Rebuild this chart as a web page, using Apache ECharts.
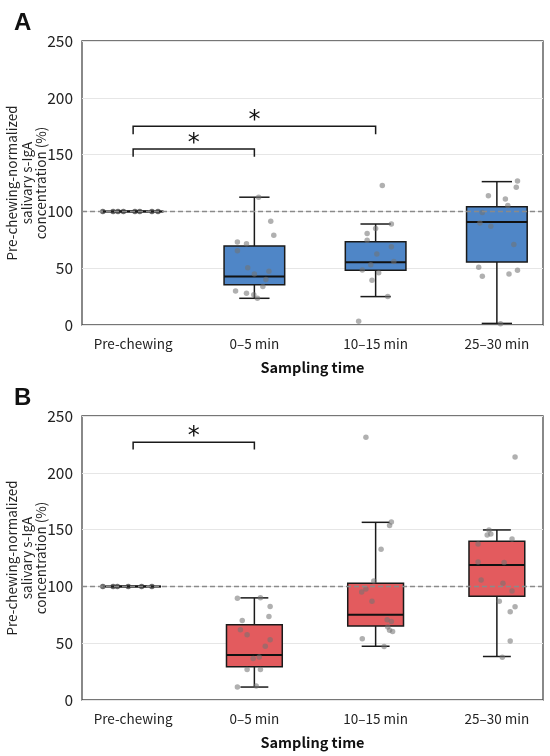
<!DOCTYPE html>
<html>
<head>
<meta charset="utf-8">
<script src="https://cdn.jsdelivr.net/npm/echarts@6/dist/echarts.min.js"></script>
<style>html,body{margin:0;padding:0;background:#fff}#c{width:550px;height:756px}</style>
</head>
<body>
<div id="c"></div>
<script>
// ---- data ----
const categories = ['Pre-chewing', '0–5 min', '10–15 min', '25–30 min'];
const yTicks = [0, 50, 100, 150, 200, 250];
const yAxisName = 'Pre-chewing-normalized\nsalivary s-IgA\nconcentration (%)';
const xAxisName = 'Sampling time';
const referenceLevel = 100;

// box stats: [min, Q1, median, Q3, max]
const boxA = [
  [100, 100, 100, 100, 100],
  [23.5, 35.4, 42.7, 69.5, 112.5],
  [25, 48.3, 55.2, 73.2, 88.9],
  [1.4, 55.5, 90.7, 104, 126.2]
];
const boxB = [
  [100, 100, 100, 100, 100],
  [11.4, 29.2, 39.7, 66.3, 89.9],
  [47.3, 65.1, 75, 102.7, 156.4],
  [38.3, 91.3, 118.8, 139.8, 149.7]
];

// individual points (values) and horizontal jitter (category units)
const ptsA_pre = [100, 100, 100, 100, 100, 100, 100, 100];
const jitA_pre = [-0.25, -0.165, -0.125, -0.08, 0.015, 0.055, 0.155, 0.205];
const ptsA_05 = [112.5, 91.3, 79, 73, 71.5, 65.4, 50.5, 47.4, 44.8, 40, 34, 29.9, 27.9, 26.7, 23.5];
const jitA_05 = [0.035, 0.135, 0.16, -0.14, -0.065, -0.14, -0.055, 0.12, 0, 0.095, 0.07, -0.155, -0.065, -0.005, 0.025];
const ptsA_1015 = [122.7, 89, 84.9, 80.5, 74.7, 68.8, 62.5, 56, 53, 48.5, 45.9, 39.5, 25, 3.4];
const jitA_1015 = [0.055, 0.13, 0, -0.07, -0.07, 0.13, 0.01, 0.15, -0.04, -0.11, 0.025, -0.03, 0.1, -0.14];
const ptsA_2530 = [126.8, 121.2, 113.7, 111, 105.2, 99.1, 89.8, 86.9, 70.9, 50.9, 43, 45, 48.3, 1.1];
const jitA_2530 = [0.17, 0.16, -0.07, 0.07, 0.09, -0.12, -0.14, -0.05, 0.14, -0.15, -0.12, 0.1, 0.17, 0.03];

const ptsB_pre = [100, 100, 100, 100, 100, 100];
const jitB_pre = [-0.25, -0.165, -0.13, -0.04, 0.07, 0.155];
const ptsB_05 = [89.6, 89.9, 82.3, 73.6, 70, 61.9, 57.5, 53.1, 47.3, 36.5, 37.9, 26.9, 26.9, 11.4, 12.3];
const jitB_05 = [-0.14, 0.05, 0.13, 0.12, -0.1, -0.115, -0.06, 0.13, 0.09, -0.01, 0.04, -0.06, 0.05, -0.14, 0.015];
const ptsB_1015 = [231.4, 156.6, 153.7, 132.7, 104.7, 97.7, 95, 86.9, 70.6, 69.2, 64.2, 61.3, 60.2, 54, 47];
const jitB_1015 = [-0.08, 0.13, 0.115, 0.045, -0.015, -0.08, -0.115, -0.03, 0.095, 0.13, 0.1, 0.115, 0.14, -0.11, 0.07];
const ptsB_2530 = [213.9, 149.7, 146.2, 145.3, 141.8, 137.4, 121.4, 121, 105.6, 102.7, 96, 86.9, 82, 77.6, 51.9, 37.7];
const jitB_2530 = [0.15, -0.065, -0.05, -0.08, 0.125, -0.155, -0.155, 0.06, -0.13, 0.05, 0.125, 0.02, 0.15, 0.11, 0.11, 0.045];

// significance brackets: [fromCategory, toCategory, barLevel, tickEndLevel]
const bracketsA = [[0, 1, 155, 148], [0, 2, 175, 168]];
const bracketsB = [[0, 1, 227, 220.5]];

// ---- build ----
const FONT = "'Noto Sans CJK JP', 'Noto Sans', sans-serif";
const panels = [
  { title: 'A', box: boxA, color: '#4f86c7', pts: [ptsA_pre, ptsA_05, ptsA_1015, ptsA_2530], jit: [jitA_pre, jitA_05, jitA_1015, jitA_2530], brackets: bracketsA, top: 41, titleTop: 6, boxRatio: 0.5 },
  { title: 'B', box: boxB, color: '#e35b5e', pts: [ptsB_pre, ptsB_05, ptsB_1015, ptsB_2530], jit: [jitB_pre, jitB_05, jitB_1015, jitB_2530], brackets: bracketsB, top: 416, titleTop: 381, boxRatio: 0.46 }
];
const PLOT_H = 284;

const option = {
  animation: false,
  backgroundColor: '#fff',
  title: [], grid: [], xAxis: [], yAxis: [], series: []
};

function boxRenderer(color, ratio) {
  return function (params, api) {
    const x = api.value(0);
    const lo = api.coord([x, api.value(1)]);
    const q1 = api.coord([x, api.value(2)]);
    const md = api.coord([x, api.value(3)]);
    const q3 = api.coord([x, api.value(4)]);
    const hi = api.coord([x, api.value(5)]);
    const w = api.size([1, 0])[0] * ratio;
    const c = w / 4;
    const cx = md[0];
    const ls = { stroke: '#1a1a1a', lineWidth: 1.5 };
    return {
      type: 'group',
      children: [
        { type: 'line', shape: { x1: cx, y1: hi[1], x2: cx, y2: q3[1] }, style: ls },
        { type: 'line', shape: { x1: cx, y1: q1[1], x2: cx, y2: lo[1] }, style: ls },
        { type: 'line', shape: { x1: cx - c, y1: hi[1], x2: cx + c, y2: hi[1] }, style: ls },
        { type: 'line', shape: { x1: cx - c, y1: lo[1], x2: cx + c, y2: lo[1] }, style: ls },
        { type: 'rect', shape: { x: cx - w / 2, y: q3[1], width: w, height: q1[1] - q3[1] }, style: { fill: color, stroke: '#1a1a1a', lineWidth: 1.5 } },
        { type: 'line', shape: { x1: cx - w / 2, y1: md[1], x2: cx + w / 2, y2: md[1] }, style: { stroke: '#111', lineWidth: 2 } }
      ]
    };
  };
}

function bracketRenderer(params, api) {
  const a = api.value(0), b = api.value(1), lv = api.value(2), tk = api.value(3);
  const p1 = api.coord([a, tk]), p2 = api.coord([a, lv]), p3 = api.coord([b, lv]), p4 = api.coord([b, tk]);
  return {
    type: 'group',
    children: [
      { type: 'polyline', shape: { points: [p1, p2, p3, p4] }, style: { stroke: '#1a1a1a', lineWidth: 1.5, fill: null } },
      { type: 'text', style: { text: '*', x: (p2[0] + p3[0]) / 2, y: p2[1] - 5, textAlign: 'center', textVerticalAlign: 'middle', font: "24px 'DejaVu Sans', sans-serif", fill: '#111' } }
    ]
  };
}

panels.forEach((p, k) => {
  const g0 = k * 2, g1 = k * 2 + 1;
  option.title.push({ text: p.title, left: 9, top: p.titleTop, textStyle: { fontSize: 24, fontWeight: 'bold', color: '#111', fontFamily: "'Liberation Sans', Arial, sans-serif" } });
  option.grid.push({ left: 82, right: 7, top: p.top, height: PLOT_H, show: true, borderColor: '#4a4a4a', borderWidth: 1.3, backgroundColor: 'transparent', outerBoundsMode: 'none', containLabel: false });
  option.grid.push({ left: 72.5, width: 485, top: p.top, height: PLOT_H, show: false, outerBoundsMode: 'none', containLabel: false });
  // frame x axis (name)
  option.xAxis.push({ gridIndex: g0, type: 'value', min: 0, max: 1, axisLabel: { show: false }, axisLine: { show: false }, axisTick: { show: false }, splitLine: { show: false },
    name: xAxisName, nameLocation: 'middle', nameGap: 35, nameMoveOverlap: false, nameTextStyle: { fontSize: 14.5, fontWeight: 'bold', color: '#111', fontFamily: FONT } });
  // category labels
  option.xAxis.push({ gridIndex: g1, type: 'category', data: categories, boundaryGap: true, axisLine: { show: false }, axisTick: { show: false },
    axisLabel: { fontSize: 13.5, color: '#222', margin: 12, fontFamily: FONT } });
  // numeric x for marks
  option.xAxis.push({ gridIndex: g1, type: 'value', min: -0.5, max: 3.5, show: false });
  option.yAxis.push({ gridIndex: g0, type: 'value', min: yTicks[0], max: yTicks[yTicks.length - 1], interval: yTicks[1] - yTicks[0],
    axisLine: { show: false }, axisTick: { show: false },
    axisLabel: { fontSize: 15.5, color: '#222', margin: 9, fontFamily: FONT },
    splitLine: { show: true, lineStyle: { color: '#e6e6e6', width: 1 } },
    name: yAxisName, nameLocation: 'middle', nameGap: 33.5, nameRotate: 90, nameMoveOverlap: false,
    nameTextStyle: { fontSize: 13.5, color: '#222', lineHeight: 14.5, fontFamily: FONT } });
  option.yAxis.push({ gridIndex: g1, type: 'value', min: yTicks[0], max: yTicks[yTicks.length - 1], show: false });

  const xv = k * 3 + 2, yv = k * 2 + 1;
  // reference line
  option.series.push({ type: 'line', xAxisIndex: k * 3, yAxisIndex: k * 2, data: [], silent: true,
    markLine: { symbol: 'none', silent: true, label: { show: false }, lineStyle: { color: '#8a8a8a', type: [5, 3], width: 1.3 }, data: [{ yAxis: referenceLevel }] } });
  // boxes
  option.series.push({ type: 'custom', xAxisIndex: xv, yAxisIndex: yv, renderItem: boxRenderer(p.color, p.boxRatio),
    encode: { x: 0, y: [1, 2, 3, 4, 5] },
    data: p.box.map((b, i) => [i].concat(b)), z: 3 });
  // points
  const sd = [];
  p.pts.forEach((arr, i) => arr.forEach((v, j) => sd.push({ value: [i + p.jit[i][j], v], itemStyle: i === 0 ? { color: 'rgba(40,40,40,0.85)' } : undefined })));
  option.series.push({ type: 'scatter', xAxisIndex: xv, yAxisIndex: yv, data: sd, symbolSize: 5.5, z: 4,
    itemStyle: { color: 'rgba(115,115,115,0.7)' } });
  // brackets
  option.series.push({ type: 'custom', xAxisIndex: xv, yAxisIndex: yv, renderItem: bracketRenderer,
    encode: { x: [0, 1], y: [2, 3] }, data: p.brackets, z: 5 });
});

const chart = echarts.init(document.getElementById('c'), null, { renderer: 'canvas' });
chart.setOption(option);
</script>
</body>
</html>
